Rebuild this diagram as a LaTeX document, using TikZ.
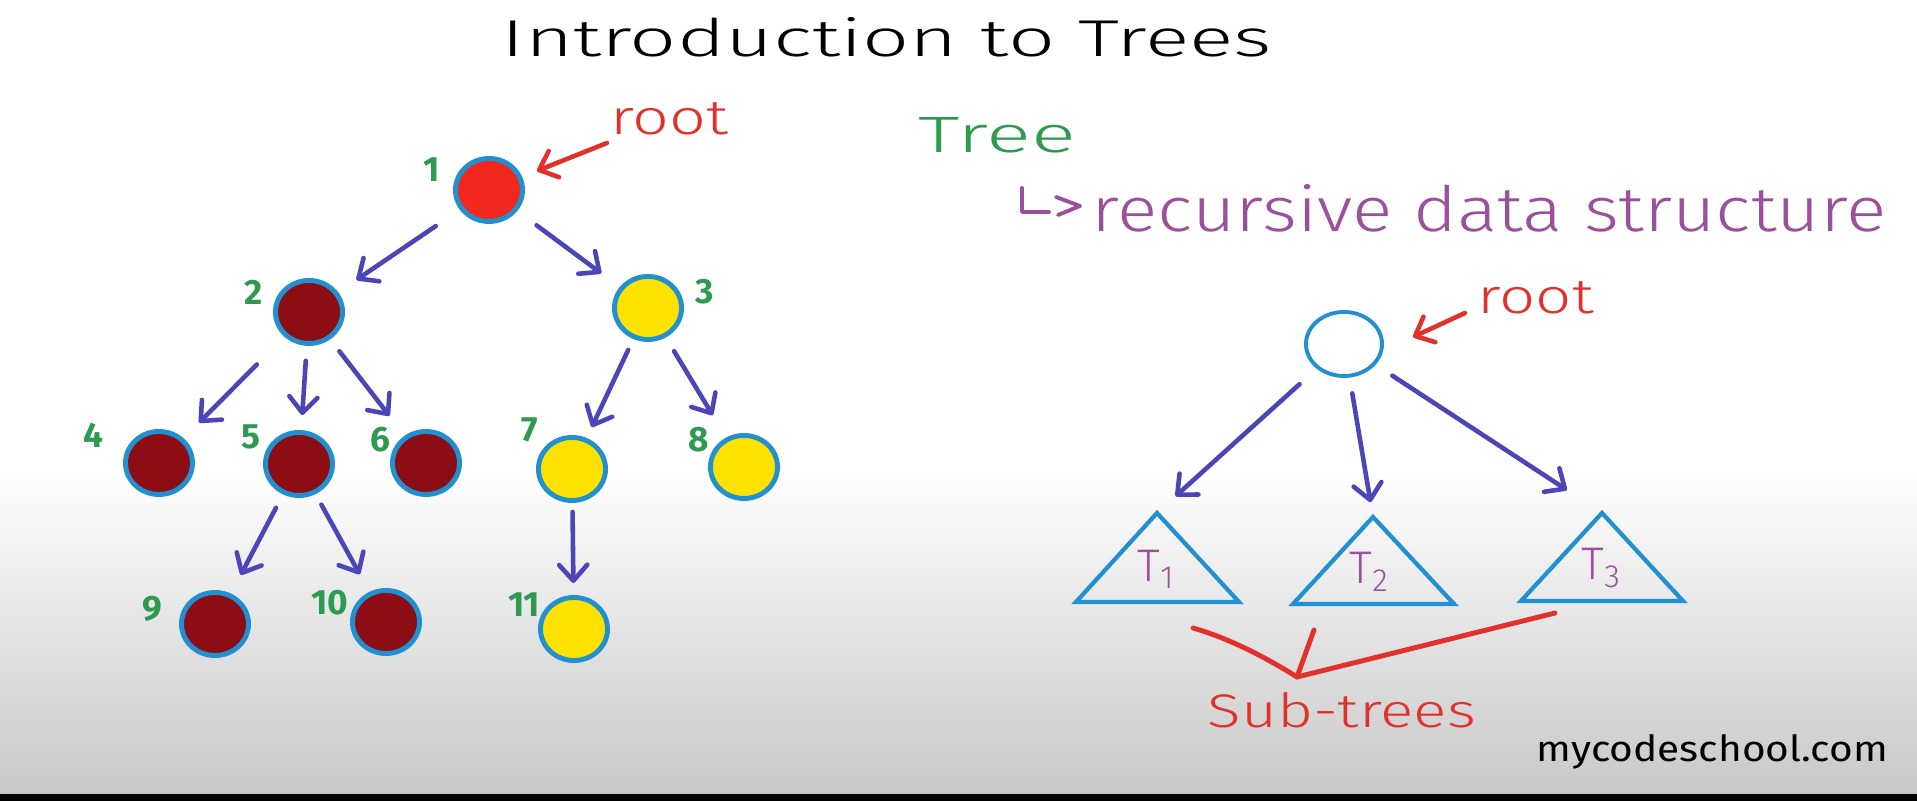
\documentclass[tikz,border=0pt]{standalone}
\usepackage{fontspec}
\usepackage{graphicx}
\setmainfont{Fira Sans}
\newfontfamily\hand{Fira Sans Light}
\usetikzlibrary{arrows.meta,shapes.geometric}
\definecolor{nred}{HTML}{F2281E}
\definecolor{ndark}{HTML}{8C0D14}
\definecolor{nyel}{HTML}{FDE200}
\definecolor{nblue}{HTML}{2090D0}
\definecolor{arrblue}{HTML}{4B45B8}
\definecolor{lgreen}{HTML}{2E9A50}
\definecolor{lpurple}{HTML}{9B509B}
\definecolor{lred}{HTML}{E2302A}
\definecolor{bggray}{HTML}{C8C8C8}
\begin{document}
\begin{tikzpicture}[x=0.01cm,y=-0.01cm,
  tn/.style={shape=ellipse, draw=nblue, line width=1.4pt, minimum width=0.67cm, minimum height=0.63cm, inner sep=0pt},
  rn/.style={tn, fill=nred},
  dn/.style={tn, fill=ndark},
  yn/.style={tn, fill=nyel},
  num/.style={text=lgreen, font=\fontsize{10}{12}\selectfont\bfseries, inner sep=0pt},
  arr/.style={draw=arrblue, line width=1.3pt, line cap=round, -{Straight Barb[length=4.5pt,width=8pt,round]}},
  redarr/.style={draw=lred, line width=1.3pt, line cap=round, -{Straight Barb[length=4.5pt,width=8pt,round]}},
  redline/.style={draw=lred, line width=1.4pt, line cap=round, line join=round},
  hookline/.style={draw=lpurple, line width=1.1pt, line cap=round, line join=round},
  tri/.style={draw=nblue, line width=1.2pt, line join=miter},
  txt/.style={inner sep=0pt, anchor=base west, font=\hand},
  tlab/.style={inner sep=0pt, anchor=base west, text=lpurple, font=\hand\fontsize{13}{15}\selectfont}
]
\useasboundingbox (0,0) rectangle (1917,801);
\fill[white] (0,0) rectangle (1917,471);
\shade[top color=white, bottom color=bggray] (0,470) rectangle (1917,794);
\fill[black] (0,794) rectangle (1917,801);

% title
\node[txt] (title) at (501,57) {\resizebox{7.70cm}{0.39cm}{Introduction to Trees}};

% left tree nodes
\node[rn] (n1) at (489,190) {};
\node[dn] (n2) at (309,312) {};
\node[yn] (n3) at (648,308) {};
\node[dn] (n4) at (159,463) {};
\node[dn] (n5) at (299,464) {};
\node[dn] (n6) at (426,463) {};
\node[yn] (n7) at (572,469) {};
\node[yn] (n8) at (744,467) {};
\node[dn] (n9) at (215,624) {};
\node[dn] (n10) at (386,622) {};
\node[yn] (n11) at (574,629) {};

% labels
\node[num] (l1) at (432,170) {1};
\node[num] (l2) at (254,292) {2};
\node[num] (l3) at (705,292) {3};
\node[num] (l4) at (93,435) {4};
\node[num] (l5) at (251,437) {5};
\node[num] (l6) at (380,440) {6};
\node[num] (l7) at (530,430) {7};
\node[num] (l8) at (699,440) {8};
\node[num] (l9) at (152,609) {9};
\node[num] (l10) at (330,603) {10};
\node[num] (l11) at (524,605) {11};

% edges
\draw[arr, shorten <=0.29cm, shorten >=0.22cm] (n1) -- (n2);
\draw[arr, shorten <=0.24cm, shorten >=0.23cm] (n1) -- (n3);
\draw[arr, shorten <=0.39cm, shorten >=0.22cm] (n2) -- (n4);
\draw[arr, shorten <=0.15cm, shorten >=0.15cm] (n2) -- (n5);
\draw[arr, shorten <=0.15cm, shorten >=0.25cm] (n2) -- (n6);
\draw[arr, shorten <=0.12cm, shorten >=0.12cm] (n3) -- (n7);
\draw[arr, shorten <=0.16cm, shorten >=0.26cm] (n3) -- (n8);
\draw[arr, shorten <=0.15cm, shorten >=0.21cm] (n5) -- (n9);
\draw[arr, shorten <=0.12cm, shorten >=0.20cm] (n5) -- (n10);
\draw[arr, shorten <=0.09cm, shorten >=0.12cm] (n7) -- (n11);

% root label left
\node[txt, text=lred] (rootA) at (610,135) {\resizebox{1.18cm}{0.32cm}{root}};
\draw[redarr, shorten >=0.16cm] ([shift={(-3,8)}]rootA.base west) -- (n1);

% right side text
\node[txt, text=lgreen] (tree) at (918,153) {\resizebox{1.57cm}{0.35cm}{Tree}};
\draw[hookline] (1022,188) -- (1022,212) -- (1049,212);
\draw[hookline] (1056,197) -- (1080,206) -- (1058,215);
\node[txt, text=lpurple] (rds) at (1091,232) {\resizebox{7.94cm}{0.47cm}{recursive data structure}};

% right tree
\node[shape=ellipse, draw=nblue, line width=1.1pt, fill=white, minimum width=0.76cm, minimum height=0.64cm, inner sep=0pt] (rr) at (1344,344) {};
\node[txt, text=lred] (rootB) at (1477,314) {\resizebox{1.16cm}{0.32cm}{root}};
\coordinate (rbE) at (1413,337);
\draw[redarr] ([shift={(-12,-1)}]rootB.base west) -- (rbE);

\coordinate (a1) at (1157,513);
\coordinate (a2) at (1373,517);
\coordinate (a3) at (1602,513);
\draw[tri] (a1) -- (1076,602) -- (1239,602) -- cycle;
\draw[tri] (a2) -- (1293,604) -- (1454,604) -- cycle;
\draw[tri] (a3) -- (1521,601) -- (1683,601) -- cycle;
\node[tlab] (T1) at (1137,582) {T\textsubscript{1}};
\node[tlab] (T2) at (1349,584) {T\textsubscript{2}};
\node[tlab] (T3) at (1581,580) {T\textsubscript{3}};

\draw[arr, shorten <=0.23cm, shorten >=0.25cm] (rr) -- (a1);
\draw[arr, shorten <=0.16cm, shorten >=0.15cm] (rr) -- (a2);
\draw[arr, shorten <=0.20cm, shorten >=0.42cm] (rr) -- (a3);

% sub-trees brace
\coordinate (bL) at (1193,628);
\coordinate (bV) at (1297,677);
\coordinate (bR) at (1555,613);
\coordinate (bM) at (1314,630);
\draw[redline] (bL) .. controls (1225,637) and (1262,655) .. (bV) -- (bR);
\draw[redline] (bM) -- (bV);
\node[txt, text=lred] (sub) at (1207,728) {\resizebox{2.68cm}{0.35cm}{Sub-trees}};

% watermark
\node[inner sep=0pt, anchor=base west, text=black] (mcs) at (1536,762) {\resizebox{3.51cm}{0.27cm}{mycodeschool.com}};
\end{tikzpicture}
\end{document}
